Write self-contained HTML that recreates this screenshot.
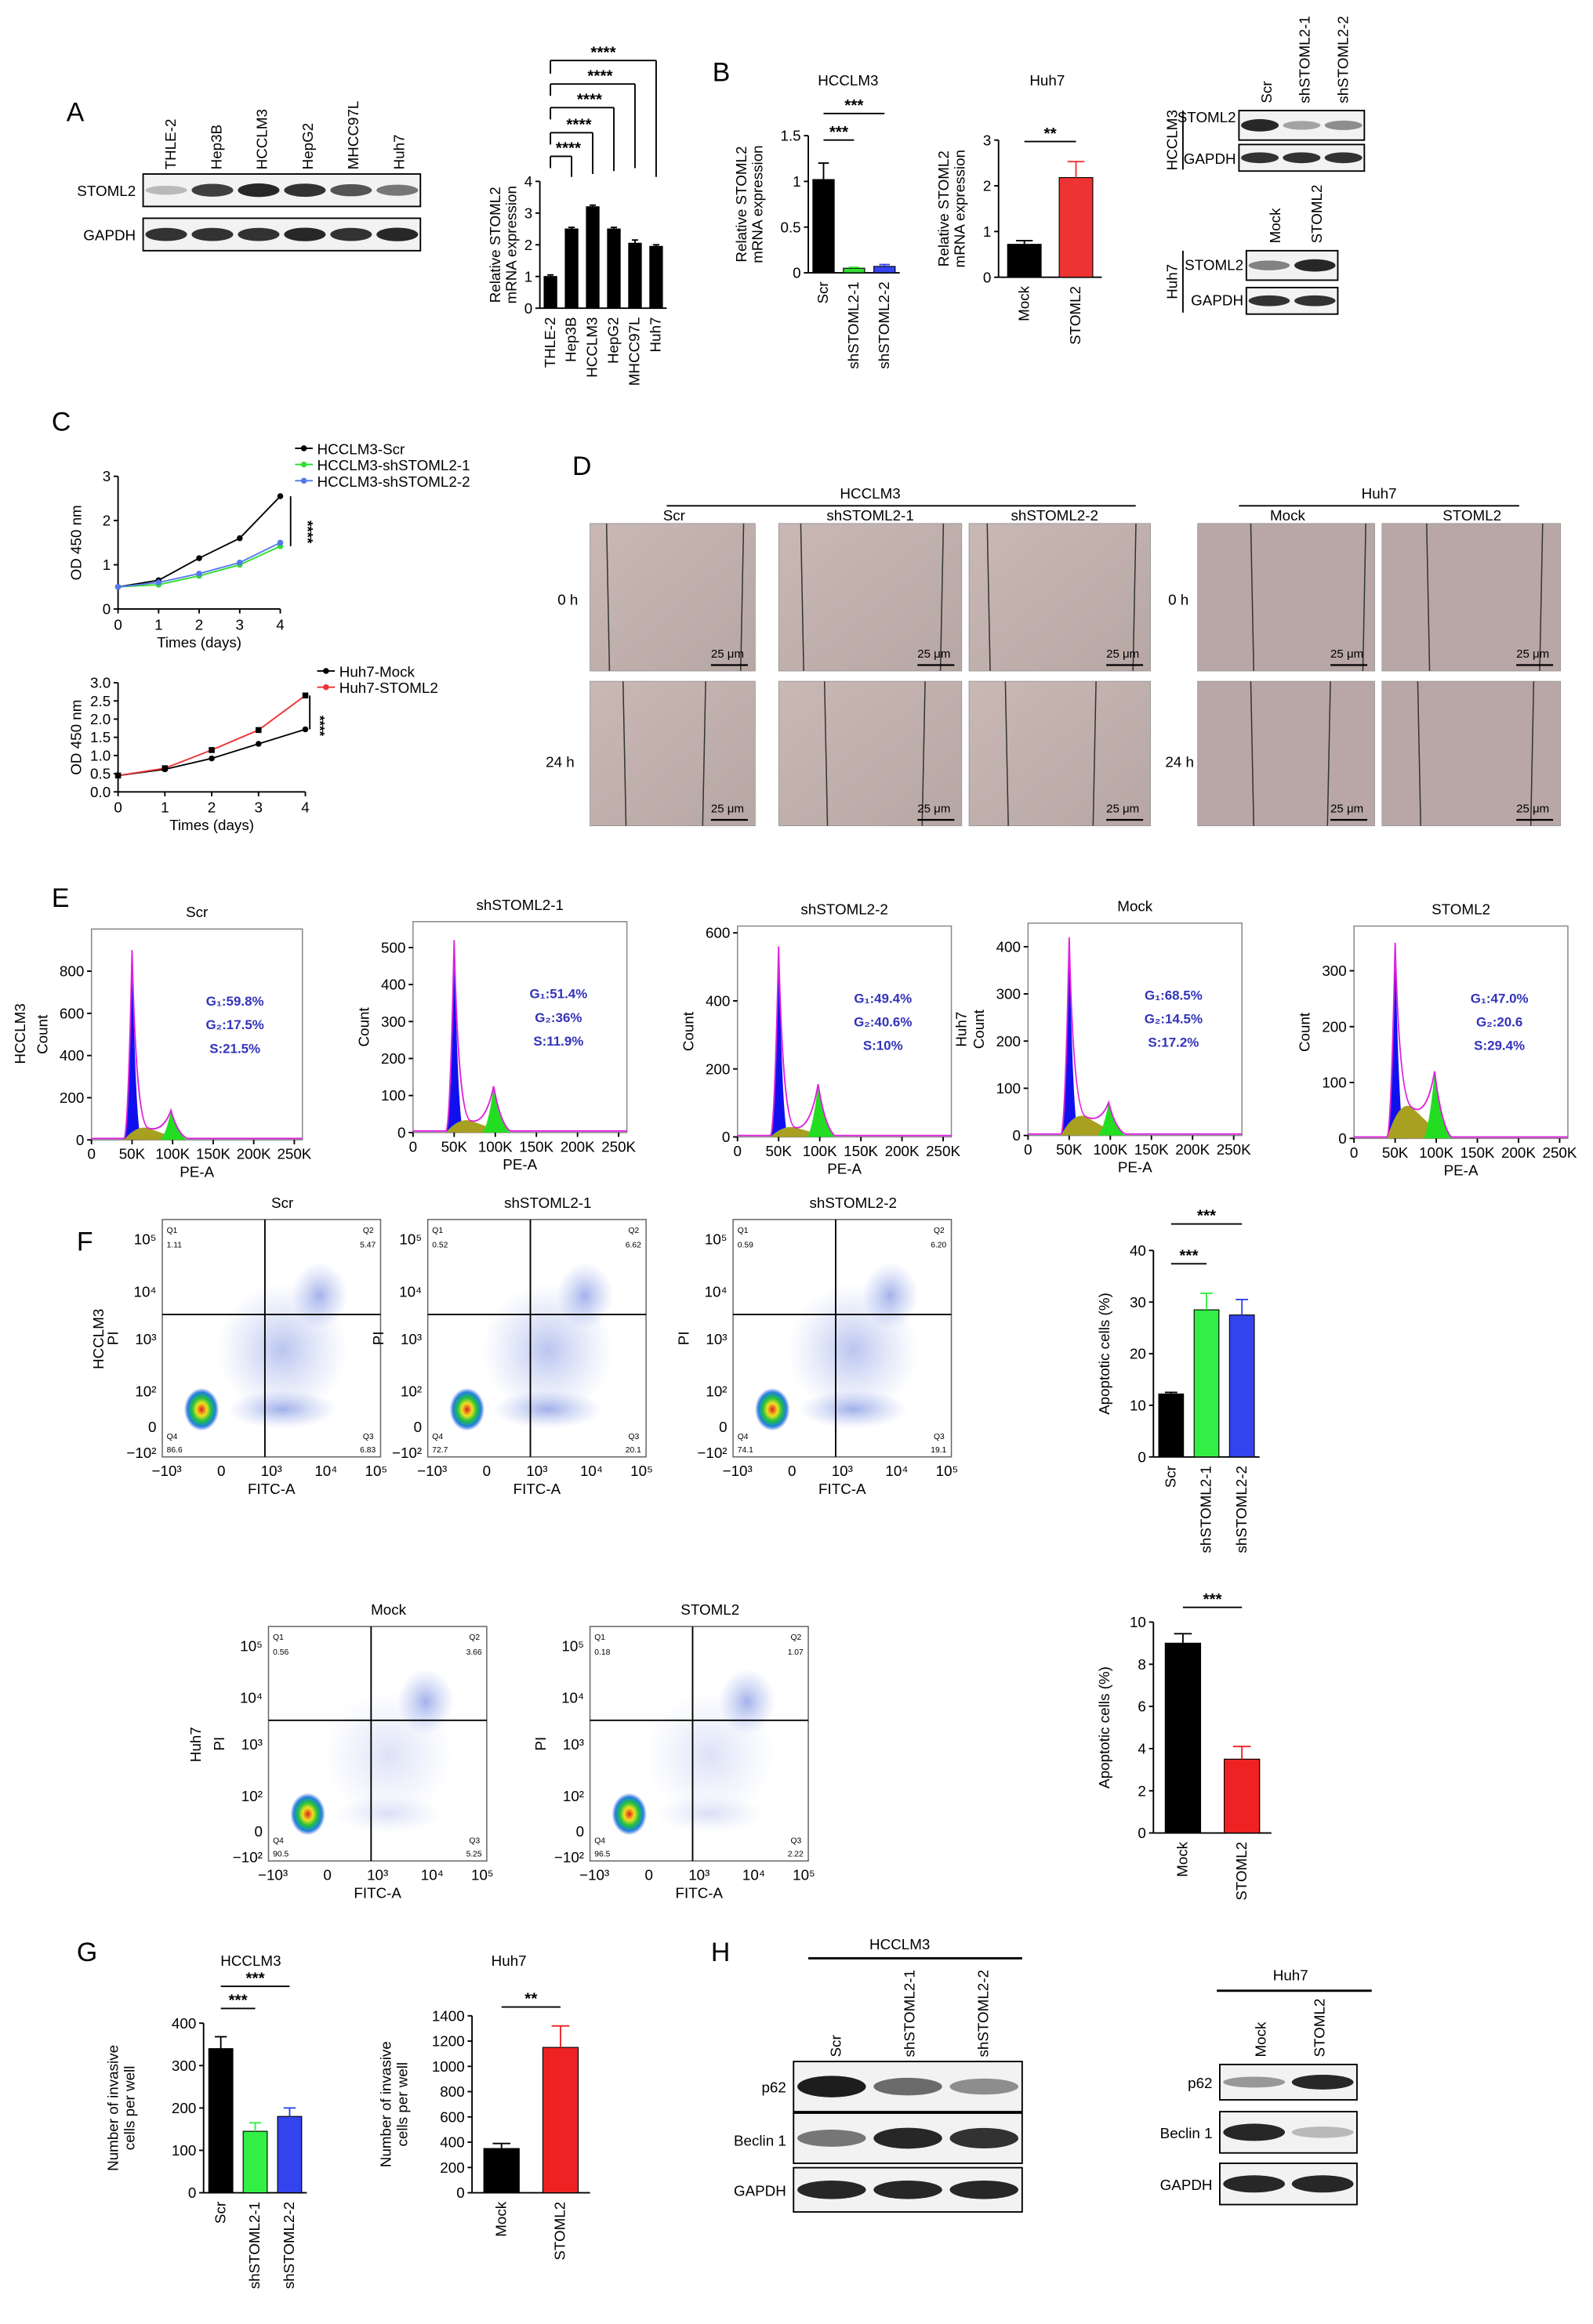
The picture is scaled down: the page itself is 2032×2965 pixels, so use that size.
<!DOCTYPE html>
<html><head><meta charset="utf-8">
<style>
html,body{margin:0;padding:0;background:#fff}
svg{display:block;font-family:"Liberation Sans",Arial,sans-serif}
</style></head>
<body>
<svg id="fig" width="2032" height="2965" viewBox="0 0 1080 1576" xmlns="http://www.w3.org/2000/svg">
<defs>
<radialGradient id="dens" cx="50%" cy="50%" r="50%">
<stop offset="0" stop-color="#e02020"/><stop offset="0.3" stop-color="#f0e020"/><stop offset="0.55" stop-color="#20c040"/><stop offset="0.8" stop-color="#2080e0"/><stop offset="1" stop-color="#4060e0" stop-opacity="0"/>
</radialGradient>
<radialGradient id="blue" cx="50%" cy="50%" r="50%">
<stop offset="0" stop-color="#3050d0" stop-opacity="0.55"/><stop offset="1" stop-color="#6080e0" stop-opacity="0"/>
</radialGradient>
<linearGradient id="micro" x1="0" y1="0" x2="1" y2="1">
<stop offset="0" stop-color="#c9b8b4"/><stop offset="1" stop-color="#b7a7a4"/>
</linearGradient>
</defs>
<g id="root"></g>
</svg>
<script>
// ---------- data ----------
const aCats=["THLE-2","Hep3B","HCCLM3","HepG2","MHCC97L","Huh7"];
const aVals=[1.0,2.5,3.2,2.5,2.05,1.95];
const bHcCats=["Scr","shSTOML2-1","shSTOML2-2"];
const bHcVals=[1.02,0.05,0.07];
const bHuCats=["Mock","STOML2"];
const bHuVals=[0.72,2.18];
const cDays=[0,1,2,3,4];
const cScr=[0.5,0.65,1.15,1.6,2.55];
const cSh1=[0.5,0.55,0.75,1.0,1.42];
const cSh2=[0.5,0.6,0.8,1.05,1.5];
const cMock=[0.45,0.62,0.92,1.32,1.72];
const cSt=[0.45,0.65,1.15,1.7,2.65];
const fHcCats=["Scr","shSTOML2-1","shSTOML2-2"];
const fHcVals=[12.2,28.5,27.5];
const fHuCats=["Mock","STOML2"];
const fHuVals=[9.0,3.5];
const gHcCats=["Scr","shSTOML2-1","shSTOML2-2"];
const gHcVals=[340,145,180];
const gHuCats=["Mock","STOML2"];
const gHuVals=[350,1150];
const eTitles=["Scr","shSTOML2-1","shSTOML2-2","Mock","STOML2"];
const eG1Peak=[900,520,560,420,350];
const eG2Peak=[140,125,155,70,120];
const eSPeak=[70,40,35,50,70];

const root=document.getElementById('root');
const NS="http://www.w3.org/2000/svg";
function el(tag,attrs,parent,txt){const e=document.createElementNS(NS,tag);for(const k in attrs)e.setAttribute(k,attrs[k]);if(txt!==undefined)e.textContent=txt;(parent||root).appendChild(e);return e;}
function T(x,y,s,size,opts){opts=opts||{};const a={x:x,y:y,'font-size':size||10,fill:opts.fill||'#000'};if(opts.anchor)a['text-anchor']=opts.anchor;if(opts.rot!==undefined)a.transform='rotate('+opts.rot+' '+x+' '+y+')';if(opts.weight)a['font-weight']=opts.weight;const t=el('text',a,opts.parent,s);return t;}
function L(x1,y1,x2,y2,w,c,parent){const l=el('line',{x1:x1,y1:y1,x2:x2,y2:y2,stroke:c||'#000','stroke-width':w||1},parent);return l;}

function bars(o){
  const g=el('g',{});
  const ys=v=>o.y0-(v-o.min)/(o.max-o.min)*(o.y0-o.y1);
  L(o.x0,o.y0,o.x0,o.y1,1,'#000',g);L(o.x0,o.y0,o.x0+o.w,o.y0,1,'#000',g);
  o.ticks.forEach(t=>{L(o.x0-3,ys(t),o.x0,ys(t),1,'#000',g);T(o.x0-5,ys(t)+3.5,String(t),o.fs||10,{anchor:'end',parent:g,name:'y-tick'});});
  const step=o.w/o.cats.length;
  o.cats.forEach((c,i)=>{
    const cx=o.x0+step*(i+0.5),bw=step*o.bw;
    const r=el('rect',{x:cx-bw/2,y:ys(o.vals[i]),width:bw,height:o.y0-ys(o.vals[i]),fill:o.colors[i%o.colors.length],stroke:'#000','stroke-width':0.6},g);
    
    const e=o.err?o.err[i]:o.vals[i]*0.08;
    L(cx,ys(o.vals[i]),cx,ys(o.vals[i]+e),1,o.colors[i%o.colors.length],g);L(cx-bw/4,ys(o.vals[i]+e),cx+bw/4,ys(o.vals[i]+e),1,o.colors[i%o.colors.length],g);
    T(cx+3,o.y0+6,c,o.fs||10,{anchor:'end',rot:-90,parent:g,name:'x-label'});
  });
  if(o.ytitle)o.ytitle.forEach((s,k)=>T(o.x0-o.yoff+k*11,(o.y0+o.y1)/2,s,o.fs||10,{anchor:'middle',rot:-90,parent:g,name:'y-axis-title'}));
  return {g:g,ys:ys,step:step};
}
function sig(x1,x2,y,s,g){L(x1,y,x2,y,1,'#000',g);T((x1+x2)/2,y-2,s,11,{anchor:'middle',weight:'bold',parent:g,name:'significance'});}
function blot(x,y,w,h,bands,label,g,intens){
  const r=el('rect',{x:x,y:y,width:w,height:h,fill:'#f2f2f2',stroke:'#000','stroke-width':1},g);
  
  const n=bands;const bw=w/n;
  for(let i=0;i<n;i++){const it=intens?intens[i]:0.85;el('ellipse',{cx:x+bw*(i+0.5),cy:y+h/2,rx:bw*0.45,ry:h*0.22*(0.5+it/2),fill:'#111','fill-opacity':it},g);}
}

// ---------- Panel A ----------
T(45,82,'A',18,{name:'panel-label-a'});
aCats.forEach((c,i)=>T(119+i*31,115,c,10,{rot:-90,name:'lane-label'}));
T(92,133,'STOML2',10,{anchor:'end',name:'blot-label'});T(92,163,'GAPDH',10,{anchor:'end',name:'blot-label'});
blot(97,118,188,22,6,'a-stoml2',null,[0.25,0.8,0.9,0.85,0.7,0.55]);
blot(97,148,188,22,6,'a-gapdh',null,[0.85,0.85,0.85,0.9,0.85,0.9]);
const ba=bars({name:'chart-a',x0:366,y0:209,y1:123,w:86,min:0,max:4,ticks:[0,1,2,3,4],cats:aCats,vals:aVals,colors:['#000'],bw:0.6,err:[0.05,0.05,0.05,0.05,0.1,0.05],ytitle:['Relative STOML2','mRNA expression'],yoff:27});
{const s=ba.step;const x=i=>366+s*(i+0.5);[[1,106],[2,90],[3,73],[4,57]].forEach(([i,y],k)=>{L(x(0),y,x(i),y,1);L(x(0),y,x(0),y+8);L(x(i),y,x(i),120-k*2);T((x(0)+x(i))/2+5,y-2,'****',11,{anchor:'middle',weight:'bold',name:'significance'});});
L(x(0),41,x(5),41);L(x(0),41,x(0),50);L(x(5),41,x(5),120);T((x(0)+x(5))/2,39,'****',11,{anchor:'middle',weight:'bold',name:'significance'});}

// ---------- Panel B ----------
T(483,55,'B',18,{name:'panel-label-b'});
T(575,58,'HCCLM3',10,{anchor:'middle',name:'chart-title'});T(710,58,'Huh7',10,{anchor:'middle',name:'chart-title'});
const bb1=bars({name:'chart-b-hcclm3',x0:548,y0:185,y1:92,w:62,min:0,max:1.5,ticks:[0,0.5,1,1.5],cats:bHcCats,vals:bHcVals,colors:['#000','#33dd33','#3344ee'],bw:0.7,err:[0.18,0.01,0.02],ytitle:['Relative STOML2','mRNA expression'],yoff:42});
{const x=i=>548+bb1.step*(i+0.5);sig(x(0),x(1),95,'***');sig(x(0),x(2),77,'***');}
const bb2=bars({name:'chart-b-huh7',x0:677,y0:188,y1:95,w:70,min:0,max:3,ticks:[0,1,2,3],cats:bHuCats,vals:bHuVals,colors:['#000','#ee3333'],bw:0.65,err:[0.08,0.35],ytitle:['Relative STOML2','mRNA expression'],yoff:34});
{const x=i=>677+bb2.step*(i+0.5);sig(x(0),x(1),96,'**');}
['Scr','shSTOML2-1','shSTOML2-2'].forEach((c,i)=>T(862+i*26,70,c,10,{rot:-90,name:'lane-label'}));
blot(840,75,85,20,3,'b-stoml2',null,[0.9,0.35,0.45]);blot(840,98,85,18,3,'b-gapdh',null,[0.85,0.85,0.85]);
T(838,83,'STOML2',10,{anchor:'end',name:'blot-label'});T(838,111,'GAPDH',10,{anchor:'end',name:'blot-label'});
L(802,75,802,115);T(798,95,'HCCLM3',10,{anchor:'middle',rot:-90,name:'cell-line-label'});
T(868,165,'Mock',10,{rot:-90,name:'lane-label'});T(896,165,'STOML2',10,{rot:-90,name:'lane-label'});
blot(845,170,62,20,2,'b2-stoml2',null,[0.5,0.9]);blot(845,195,62,18,2,'b2-gapdh',null,[0.85,0.85]);
T(843,183,'STOML2',10,{anchor:'end',name:'blot-label'});T(843,207,'GAPDH',10,{anchor:'end',name:'blot-label'});
L(802,170,802,212);T(798,191,'Huh7',10,{anchor:'middle',rot:-90,name:'cell-line-label'});

// ---------- Panel C ----------
T(35,292,'C',18,{name:'panel-label-c'});
function lineChart(o){
  const g=el('g',{});
  const xs=v=>o.x0+v/4*o.w, ys=v=>o.y0-v/o.max*(o.y0-o.y1);
  L(o.x0,o.y0,o.x0,o.y1,1,'#000',g);L(o.x0,o.y0,o.x0+o.w,o.y0,1,'#000',g);
  o.ticks.forEach(t=>{L(o.x0-3,ys(t),o.x0,ys(t),1,'#000',g);T(o.x0-5,ys(t)+3.5,o.tl?t.toFixed(1):String(t),10,{anchor:'end',parent:g,name:'y-tick'});});
  cDays.forEach(d=>{L(xs(d),o.y0,xs(d),o.y0+3,1,'#000',g);T(xs(d),o.y0+14,String(d),10,{anchor:'middle',parent:g,name:'x-tick'});});
  T(o.x0+o.w/2,o.y0+26,'Times (days)',10,{anchor:'middle',parent:g,name:'x-axis-title'});
  T(o.x0-25,(o.y0+o.y1)/2,'OD 450 nm',10,{anchor:'middle',rot:-90,parent:g,name:'y-axis-title'});
  o.series.forEach((s,k)=>{
    const pts=cDays.map((d,i)=>xs(d)+','+ys(s.v[i])).join(' ');
    const p=el('polyline',{points:pts,fill:'none',stroke:s.c,'stroke-width':1},g);
    cDays.forEach((d,i)=>{const m=el(s.sq?'rect':'circle',s.sq?{x:xs(d)-2,y:ys(s.v[i])-2,width:4,height:4,fill:'#000'}:{cx:xs(d),cy:ys(s.v[i]),r:2,fill:s.c},g);});
    const ly=o.ly+k*11;L(o.lx,ly,o.lx+12,ly,1,s.c,g);el('circle',{cx:o.lx+6,cy:ly,r:2,fill:s.c},g);T(o.lx+15,ly+4,s.label,10,{parent:g,name:'legend-entry'});
  });
  return {g:g,xs:xs,ys:ys};
}
const c1=lineChart({name:'chart-c-hcclm3',x0:80,y0:413,y1:323,w:110,max:3,ticks:[0,1,2,3],lx:200,ly:304,series:[{n:'scr',c:'#000',v:cScr,label:'HCCLM3-Scr'},{n:'sh1',c:'#33dd33',v:cSh1,label:'HCCLM3-shSTOML2-1'},{n:'sh2',c:'#5577ee',v:cSh2,label:'HCCLM3-shSTOML2-2'}]});
L(197,c1.ys(cScr[4]),197,c1.ys(cSh1[4]),1);T(205,c1.ys(2),'****',10,{rot:90,weight:'bold',name:'significance'});
const c2=lineChart({name:'chart-c-huh7',x0:80,y0:537,y1:463,w:127,max:3,tl:true,ticks:[0,0.5,1,1.5,2,2.5,3],lx:215,ly:455,series:[{n:'mock',c:'#000',v:cMock,label:'Huh7-Mock'},{n:'stoml2',c:'#ee3333',v:cSt,label:'Huh7-STOML2',sq:true}]});
L(210,c2.ys(cSt[4]),210,c2.ys(cMock[4]),1);T(214,c2.ys(2.1),'****',9,{rot:90,weight:'bold',name:'significance'});

// ---------- Panel D ----------
T(388,322,'D',18,{name:'panel-label-d'});
T(590,338,'HCCLM3',10,{anchor:'middle',name:'group-title'});L(452,343,770,343);
T(935,338,'Huh7',10,{anchor:'middle',name:'group-title'});L(840,343,1030,343);
[['Scr',457],['shSTOML2-1',590],['shSTOML2-2',715],['Mock',873],['STOML2',998]].forEach(([s,x])=>T(x,353,s,10,{anchor:'middle',name:'column-title'}));
T(378,410,'0 h',10,{name:'row-label'});T(370,520,'24 h',10,{name:'row-label'});T(792,410,'0 h',10,{name:'row-label'});T(790,520,'24 h',10,{name:'row-label'});
const dCols=[[400,112],[528,124],[657,123],[812,120],[937,121]];
const dRows=[[355,100],[462,98]];
const gaps=[[0.1,0.93],[0.12,0.9],[0.1,0.92],[0.3,0.95],[0.25,0.9],[0.2,0.7],[0.25,0.8],[0.2,0.7],[0.3,0.75],[0.2,0.85]];
dRows.forEach((r,ri)=>dCols.forEach((c,ci)=>{const x=c[0],w=c[1],y=r[0],h=r[1];
  const im=el('rect',{x:x,y:y,width:w,height:h,fill:ci>=3?'#b8a7a6':'url(#micro)',stroke:'#999','stroke-width':0.5});
  const gp=gaps[ri*5+ci];L(x+w*gp[0],y,x+w*gp[0]+2,y+h,0.8,'#333');L(x+w*gp[1],y,x+w*gp[1]-2,y+h,0.8,'#333');
  T(x+w-30,y+h-9,'25 μm',8,{name:'scale-label'});L(x+w-30,y+h-4,x+w-5,y+h-4,1.2,'#000');
}));

// ---------- Panel E ----------
T(35,615,'E',18,{name:'panel-label-e'});
const eBox=[[62,205,630,773,1000,[0,200,400,600,800]],[280,425,625,768,570,[0,100,200,300,400,500]],[500,645,628,771,620,[0,200,400,600]],[697,842,626,770,450,[0,100,200,300,400]],[918,1063,628,772,380,[0,100,200,300]]];
const eTxt=[['59.8%','17.5%','21.5%'],['51.4%','36%','11.9%'],['49.4%','40.6%','10%'],['68.5%','14.5%','17.2%'],['47.0%','20.6','29.4%']];
eBox.forEach((b,i)=>{
  const [x0,x1,y1,y0,max,ticks]=b;const g=el('g',{});
  const xs=v=>x0+v/260*(x1-x0), ys=v=>y0-v/max*(y0-y1);
  el('rect',{x:x0,y:y1,width:x1-x0,height:y0-y1,fill:'none',stroke:'#888','stroke-width':0.8},g);
  T((x0+x1)/2,y1-8,eTitles[i],10,{anchor:'middle',parent:g,name:'chart-title'});
  ticks.forEach(t=>{L(x0-3,ys(t),x0,ys(t),1,'#000',g);T(x0-5,ys(t)+3.5,String(t),10,{anchor:'end',parent:g,name:'y-tick'});});
  [0,50,100,150,200,250].forEach(t=>{L(xs(t),y0,xs(t),y0+3,1,'#000',g);T(xs(t),y0+13,t?t+'K':'0',10,{anchor:'middle',parent:g,name:'x-tick'});});
  T((x0+x1)/2,y0+25,'PE-A',10,{anchor:'middle',parent:g,name:'x-axis-title'});
  T(x0-30,(y0+y1)/2,'Count',10,{anchor:'middle',rot:-90,parent:g,name:'y-axis-title'});
  const p1=eG1Peak[i],p2=eG2Peak[i],ps=eSPeak[i];
  el('path',{d:`M${xs(40)},${y0} Q${xs(45)},${y0} ${xs(50)},${ys(p1)} Q${xs(55)},${y0} ${xs(62)},${y0} Z`,fill:'#1010ee'},g);
  el('path',{d:`M${xs(40)},${y0} Q${xs(55)},${ys(ps)} ${xs(70)},${ys(ps*0.8)} Q${xs(90)},${ys(ps*0.4)} ${xs(110)},${y0} Z`,fill:'#a8a020'},g);
  el('path',{d:`M${xs(85)},${y0} Q${xs(92)},${ys(p2*0.2)} ${xs(98)},${ys(p2)} Q${xs(106)},${ys(p2*0.2)} ${xs(118)},${y0} Z`,fill:'#22dd22'},g);
  el('path',{d:`M${x0},${y0-1} L${xs(40)},${y0-1} Q${xs(45)},${y0} ${xs(50)},${ys(p1)} Q${xs(55)},${ys(ps)} ${xs(70)},${ys(ps*0.8)} Q${xs(88)},${ys(ps*0.5)} ${xs(98)},${ys(p2)} Q${xs(106)},${ys(p2*0.2)} ${xs(118)},${y0-1} L${x1},${y0-1}`,fill:'none',stroke:'#dd22dd','stroke-width':1},g);
  const tx=x0+(x1-x0)*0.68;
  T(tx,y1+52,'G\u2081:'+eTxt[i][0],9,{anchor:'middle',fill:'#3333bb',weight:'bold',parent:g,name:'g1-value'});
  T(tx,y1+68,'G\u2082:'+eTxt[i][1],9,{anchor:'middle',fill:'#3333bb',weight:'bold',parent:g,name:'g2-value'});
  T(tx,y1+84,'S:'+eTxt[i][2],9,{anchor:'middle',fill:'#3333bb',weight:'bold',parent:g,name:'s-value'});
});
T(17,701,'HCCLM3',10,{anchor:'middle',rot:-90,name:'row-label'});T(655,698,'Huh7',10,{anchor:'middle',rot:-90,name:'row-label'});

// ---------- Panel F scatter ----------
T(52,848,'F',18,{name:'panel-label-f'});
const fScat=[[110,258,827,988,'Scr',['1.11','5.47','86.6','6.83']],[290,438,827,988,'shSTOML2-1',['0.52','6.62','72.7','20.1']],[497,645,827,988,'shSTOML2-2',['0.59','6.20','74.1','19.1']],[182,330,1103,1262,'Mock',['0.56','3.66','90.5','5.25']],[400,548,1103,1262,'STOML2',['0.18','1.07','96.5','2.22']]];
fScat.forEach((b,i)=>{
  const [x0,x1,y1,y0,t,q]=b;const w=x1-x0,h=y0-y1;const g=el('g',{});
  T(x0+w*0.55,y1-8,t,10,{anchor:'middle',parent:g,name:'chart-title'});
  el('rect',{x:x0,y:y1,width:w,height:h,fill:'#fff',stroke:'#666','stroke-width':0.8},g);
  el('ellipse',{cx:x0+w*0.55,cy:y1+h*0.55,rx:w*0.3,ry:h*0.28,fill:'url(#blue)','fill-opacity':i>=3?0.3:0.6},g);
  el('ellipse',{cx:x0+w*0.72,cy:y1+h*0.32,rx:w*0.13,ry:h*0.14,fill:'url(#blue)','fill-opacity':0.8},g);
  el('ellipse',{cx:x0+w*0.55,cy:y1+h*0.8,rx:w*0.25,ry:h*0.08,fill:'url(#blue)','fill-opacity':i>=3?0.3:0.8},g);
  el('ellipse',{cx:x0+w*0.18,cy:y1+h*0.8,rx:w*0.08,ry:h*0.09,fill:'url(#dens)'},g);
  L(x0+w*0.47,y1,x0+w*0.47,y0,1,'#000',g);L(x0,y1+h*0.4,x1,y1+h*0.4,1,'#000',g);
  T(x0+3,y1+9,'Q1',5.5,{parent:g,name:'quadrant'});T(x0+3,y1+19,q[0],5.5,{parent:g,name:'quadrant-value'});
  T(x1-12,y1+9,'Q2',5.5,{parent:g,name:'quadrant'});T(x1-14,y1+19,q[1],5.5,{parent:g,name:'quadrant-value'});
  T(x0+3,y0-12,'Q4',5.5,{parent:g,name:'quadrant'});T(x0+3,y0-3,q[2],5.5,{parent:g,name:'quadrant-value'});
  T(x1-12,y0-12,'Q3',5.5,{parent:g,name:'quadrant'});T(x1-14,y0-3,q[3],5.5,{parent:g,name:'quadrant-value'});
  const yl=[['10\u2075',0.08],['10\u2074',0.3],['10\u00b3',0.5],['10\u00b2',0.72],['0',0.87],['\u221210\u00b2',0.98]];
  yl.forEach(([s,f])=>T(x0-4,y1+h*f+4,s,10,{anchor:'end',parent:g,name:'y-tick'}));
  const xl=[['\u221210\u00b3',0.02],['0',0.27],['10\u00b3',0.5],['10\u2074',0.75],['10\u2075',0.98]];
  xl.forEach(([s,f])=>T(x0+w*f,y0+13,s,10,{anchor:'middle',parent:g,name:'x-tick'}));
  T(x0+w*0.5,y0+25,'FITC-A',10,{anchor:'middle',parent:g,name:'x-axis-title'});
  T(x0-30,y1+h/2,'PI',10,{anchor:'middle',rot:-90,parent:g,name:'y-axis-title'});
});
T(70,908,'HCCLM3',10,{anchor:'middle',rot:-90,name:'row-label'});T(136,1183,'Huh7',10,{anchor:'middle',rot:-90,name:'row-label'});
const bf1=bars({name:'chart-f-hcclm3',x0:782,y0:988,y1:848,w:72,min:0,max:40,ticks:[0,10,20,30,40],cats:fHcCats,vals:fHcVals,colors:['#000','#33ee44','#3344ee'],bw:0.7,err:[0.3,3.2,3],ytitle:['Apoptotic cells (%)'],yoff:30});
{const x=i=>782+bf1.step*(i+0.5);sig(x(0),x(1),857,'***');sig(x(0),x(2),830,'***');}
const bf2=bars({name:'chart-f-huh7',x0:782,y0:1243,y1:1100,w:80,min:0,max:10,ticks:[0,2,4,6,8,10],cats:fHuCats,vals:fHuVals,colors:['#000','#ee2222'],bw:0.6,err:[0.45,0.6],ytitle:['Apoptotic cells (%)'],yoff:30});
{const x=i=>782+bf2.step*(i+0.5);sig(x(0),x(1),1090,'***');}

// ---------- Panel G ----------
T(52,1330,'G',18,{name:'panel-label-g'});
T(170,1333,'HCCLM3',10,{anchor:'middle',name:'chart-title'});T(345,1333,'Huh7',10,{anchor:'middle',name:'chart-title'});
const bg1=bars({name:'chart-g-hcclm3',x0:138,y0:1487,y1:1372,w:70,min:0,max:400,ticks:[0,100,200,300,400],cats:gHcCats,vals:gHcVals,colors:['#000','#33ee44','#3344ee'],bw:0.7,err:[28,20,20],ytitle:['Number of invasive','cells per well'],yoff:58});
{const x=i=>138+bg1.step*(i+0.5);sig(x(0),x(1),1362,'***');sig(x(0),x(2),1347,'***');}
const bg2=bars({name:'chart-g-huh7',x0:320,y0:1487,y1:1367,w:80,min:0,max:1400,ticks:[0,200,400,600,800,1000,1200,1400],cats:gHuCats,vals:gHuVals,colors:['#000','#ee2222'],bw:0.6,err:[40,170],ytitle:['Number of invasive','cells per well'],yoff:55});
{const x=i=>320+bg2.step*(i+0.5);sig(x(0),x(1),1361,'**');}

// ---------- Panel H ----------
T(482,1330,'H',18,{name:'panel-label-h'});
T(610,1322,'HCCLM3',10,{anchor:'middle',name:'group-title'});L(548,1328,693,1328,1.5);
['Scr','shSTOML2-1','shSTOML2-2'].forEach((c,i)=>T(570+i*50,1395,c,10,{rot:-90,name:'lane-label'}));
blot(538,1398,155,34,3,'h-p62',null,[0.95,0.6,0.45]);blot(538,1433,155,34,3,'h-beclin',null,[0.55,0.9,0.85]);blot(538,1470,155,30,3,'h-gapdh',null,[0.9,0.9,0.9]);
T(533,1419,'p62',10,{anchor:'end',name:'blot-label'});T(533,1455,'Beclin 1',10,{anchor:'end',name:'blot-label'});T(533,1489,'GAPDH',10,{anchor:'end',name:'blot-label'});
T(875,1343,'Huh7',10,{anchor:'middle',name:'group-title'});L(825,1350,930,1350,1.5);
T(858,1395,'Mock',10,{rot:-90,name:'lane-label'});T(898,1395,'STOML2',10,{rot:-90,name:'lane-label'});
blot(827,1400,93,24,2,'h2-p62',null,[0.4,0.9]);blot(827,1432,93,28,2,'h2-beclin',null,[0.9,0.25]);blot(827,1467,93,28,2,'h2-gapdh',null,[0.9,0.9]);
T(822,1416,'p62',10,{anchor:'end',name:'blot-label'});T(822,1450,'Beclin 1',10,{anchor:'end',name:'blot-label'});T(822,1485,'GAPDH',10,{anchor:'end',name:'blot-label'});
</script>
</body></html>
